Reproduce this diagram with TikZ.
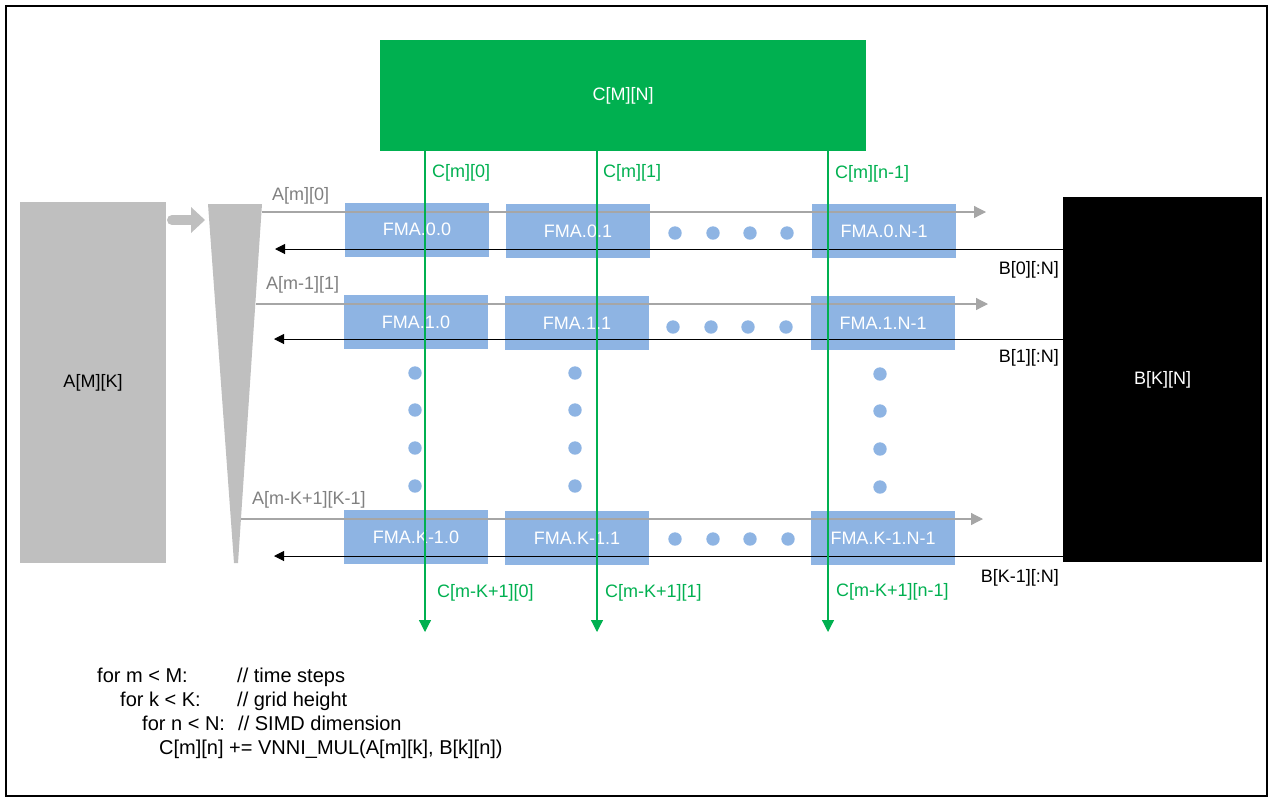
\documentclass[tikz,border=0pt]{standalone}
\usepackage{fontspec}
\setmainfont{Liberation Sans}
\usetikzlibrary{arrows.meta}

\definecolor{cgreen}{HTML}{00B050}
\definecolor{fmablue}{HTML}{8EB4E3}
\definecolor{agrey}{HTML}{BFBFBF}
\definecolor{lgrey}{HTML}{A6A6A6}
\definecolor{tgrey}{HTML}{808080}

\tikzset{
  fma/.style={fill=fmablue, text=white, minimum width=144pt, minimum height=54pt, inner sep=0pt},
  lbl/.style={inner sep=0pt, anchor=west},
  rlbl/.style={inner sep=0pt, anchor=east},
  code/.style={inner sep=0pt, anchor=base west, font=\fontsize{20}{24}\selectfont},
  feed/.style={draw=lgrey, line width=1.2pt, -{Triangle[length=12pt,width=12pt]}},
  back/.style={draw=black, line width=1pt, -{Triangle[length=10pt,width=10pt]}},
  acc/.style={draw=cgreen, line width=1.2pt, -{Triangle[length=12pt,width=12pt]}}
}

\begin{document}
\begin{tikzpicture}[x=1pt, y=-1pt, every node/.style={font=\fontsize{18}{21.6}\selectfont}]
    \useasboundingbox (0,0) rectangle (1273,801);
    % frame
    \draw[line width=2pt] (6,6) rectangle (1267,796);

    % matrices
    \node[fill=cgreen, text=white, minimum width=486pt, minimum height=111pt] (C) at (623,95.5) {C[M][N]};
    \node[fill=agrey, minimum width=146pt, minimum height=361pt] (A) at (93,382.5) {A[M][K]};
    \node[fill=black, text=white, minimum width=199pt, minimum height=365pt] (B) at (1162.5,379.5) {B[K][N]};

    % A -> skew buffer
    \draw[agrey, line width=10pt, line cap=round] (172,220) -- (192,220);
    \fill[agrey] (191,207) -- (205,220) -- (191,233) -- cycle;
    \fill[agrey] (208,204) -- (262,204) -- (238,563) -- (234,563) -- cycle;

    % row 0
    \node[fma] (f00) at (417,229.5) {FMA.0.0};
    \node[fma] (f01) at (578,231) {FMA.0.1};
    \node[fma] (f0n) at (884,231) {FMA.0.N-1};
    % row 1
    \node[fma] (f10) at (416,322) {FMA.1.0};
    \node[fma] (f11) at (577,323) {FMA.1.1};
    \node[fma] (f1n) at (883,323) {FMA.1.N-1};
    % row K-1
    \node[fma] (fk0) at (416,537) {FMA.K-1.0};
    \node[fma] (fk1) at (577,538) {FMA.K-1.1};
    \node[fma] (fkn) at (883,538) {FMA.K-1.N-1};

    % dots
    \foreach \x in {675,713,750,787} \fill[fmablue] (\x,233) circle [radius=6.7pt];
    \foreach \x in {673,711,748,786} \fill[fmablue] (\x,327) circle [radius=6.7pt];
    \foreach \x in {675,713,750,788} \fill[fmablue] (\x,539) circle [radius=6.7pt];
    \foreach \y in {373,410,448,486} {
        \fill[fmablue] (415,\y) circle [radius=6.7pt];
        \fill[fmablue] (575,\y) circle [radius=6.7pt];
        \fill[fmablue] (880,\y+1) circle [radius=6.7pt];
    }

    % A rows
    \coordinate (a0s) at (262,212); \coordinate (a0e) at (986,212);
    \coordinate (a1s) at (256,304); \coordinate (a1e) at (988,304);
    \coordinate (aks) at (241,519); \coordinate (ake) at (983,519);
    \draw[feed] (a0s) -- (a0e);
    \draw[feed] (a1s) -- (a1e);
    \draw[feed] (aks) -- (ake);

    % B rows
    \coordinate (b0) at (275,249);
    \coordinate (b1) at (274,339);
    \coordinate (bk) at (274,556);
    \draw[back] (b0 -| B.west) -- (b0);
    \draw[back] (b1 -| B.west) -- (b1);
    \draw[back] (bk -| B.west) -- (bk);

    % C columns
    \coordinate (g0) at (425,632);
    \coordinate (g1) at (597,632);
    \coordinate (gn) at (828,632);
    \draw[acc] (g0 |- C.south) -- (g0);
    \draw[acc] (g1 |- C.south) -- (g1);
    \draw[acc] (gn |- C.south) -- (gn);

    % labels
    \node[lbl, text=tgrey] (la0) at (272,196) {A[m][0]};
    \node[lbl, text=tgrey] (la1) at (266,285) {A[m-1][1]};
    \node[lbl, text=tgrey] (lak) at (252,500) {A[m-K+1][K-1]};
    \node[lbl, text=cgreen] (lc0) at (432,173) {C[m][0]};
    \node[lbl, text=cgreen] (lc1) at (603,173) {C[m][1]};
    \node[lbl, text=cgreen] (lcn) at (835,174) {C[m][n-1]};
    \node[lbl, text=cgreen] (lk0) at (437,593) {C[m-K+1][0]};
    \node[lbl, text=cgreen] (lk1) at (605,593) {C[m-K+1][1]};
    \node[lbl, text=cgreen] (lkn) at (836,592) {C[m-K+1][n-1]};
    \node[rlbl] (lb0) at (1059,270) {B[0][:N]};
    \node[rlbl] (lb1) at (1059,358) {B[1][:N]};
    \node[rlbl] (lbk) at (1059,578) {B[K-1][:N]};

    % loop nest
    \node[code] (l1) at (97,682) {for m < M:};
    \node[code] (c1) at (237,682) {// time steps};
    \node[code] (l2) at (120,706) {for k < K:};
    \node[code] (c2) at (237,706) {// grid height};
    \node[code] (l3) at (142,730) {for n < N:};
    \node[code] (c3) at (238,730) {// SIMD dimension};
    \node[code] (l4) at (159,754) {C[m][n] += VNNI\_MUL(A[m][k], B[k][n])};
\end{tikzpicture}
\end{document}
